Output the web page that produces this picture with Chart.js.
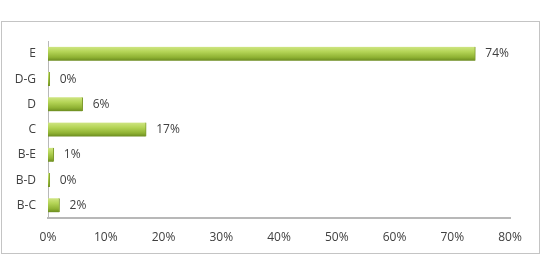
<!DOCTYPE html>
<html>
<head>
<meta charset="utf-8">
<script src="https://cdn.jsdelivr.net/npm/chart.js@4"></script>
<style>
  body { margin: 0; background: #fff; }
  #box { position: absolute; left: 1px; top: 21px; width: 537px; height: 231px; border: 1px solid #c4c4c4; }
</style>
</head>
<body>
<div id="box"><canvas id="shareChart" width="537" height="231"></canvas></div>
<script>
const categories = ['E', 'D-G', 'D', 'C', 'B-E', 'B-D', 'B-C'];
const shares = [74, 0.3, 6, 17, 1, 0.3, 2];
const shareLabels = ['74%', '0%', '6%', '17%', '1%', '0%', '2%'];
const xTicks = [0, 10, 20, 30, 40, 50, 60, 70, 80];

const FONT = "'Open Sans', 'Liberation Sans', sans-serif";

// green bar with a light top and darker bottom edge
function barFill(context) {
    const chart = context.chart;
    const yScale = chart.scales.y;
    if (!yScale || context.dataIndex === undefined) return '#9bbb3a';
    const cy = yScale.getPixelForValue(context.dataIndex);
    if (!isFinite(cy)) return '#9bbb3a';
    const g = chart.ctx.createLinearGradient(0, cy - 7, 0, cy + 7);
    g.addColorStop(0, '#cfe582');
    g.addColorStop(0.35, '#b4d456');
    g.addColorStop(0.75, '#8fb233');
    g.addColorStop(1, '#6a8a1f');
    return g;
}

// percent labels next to each bar
const valueLabels = {
    id: 'valueLabels',
    afterDatasetsDraw(chart) {
        const ctx = chart.ctx;
        const meta = chart.getDatasetMeta(0);
        ctx.save();
        ctx.font = '12px ' + FONT;
        ctx.fillStyle = '#404040';
        ctx.textAlign = 'left';
        ctx.textBaseline = 'middle';
        meta.data.forEach((bar, i) => {
            ctx.fillText(shareLabels[i], bar.x + 10, bar.y);
        });
        ctx.restore();
    }
};

new Chart(document.getElementById('shareChart').getContext('2d'), {
    type: 'bar',
    data: {
        labels: categories,
        datasets: [{
            data: shares,
            backgroundColor: barFill,
            borderColor: '#7d9a2c',
            borderWidth: { top: 0, bottom: 0, left: 0, right: 1 },
            barThickness: 14
        }]
    },
    options: {
        indexAxis: 'y',
        responsive: false,
        animation: false,
        layout: { padding: { top: 15, right: 29, left: 0, bottom: 0 } },
        plugins: {
            legend: { display: false },
            tooltip: { enabled: false }
        },
        scales: {
            x: {
                min: 0,
                max: 80,
                afterBuildTicks: (axis) => { axis.ticks = xTicks.map(v => ({ value: v })); },
                afterFit: (axis) => { axis.height = 35; },
                grid: { display: false, drawTicks: false },
                border: { display: true, color: '#b8b8b8', width: 2 },
                ticks: {
                    padding: 12,
                    color: '#404040',
                    font: { family: FONT, size: 12 },
                    callback: (v) => v + '%'
                }
            },
            y: {
                afterFit: (axis) => { axis.width = 46; },
                grid: { display: false, drawTicks: false },
                border: { display: true, color: '#b8b8b8', width: 1 },
                ticks: {
                    padding: 12,
                    color: '#404040',
                    font: { family: FONT, size: 12 }
                }
            }
        }
    },
    plugins: [valueLabels]
});
</script>
</body>
</html>
